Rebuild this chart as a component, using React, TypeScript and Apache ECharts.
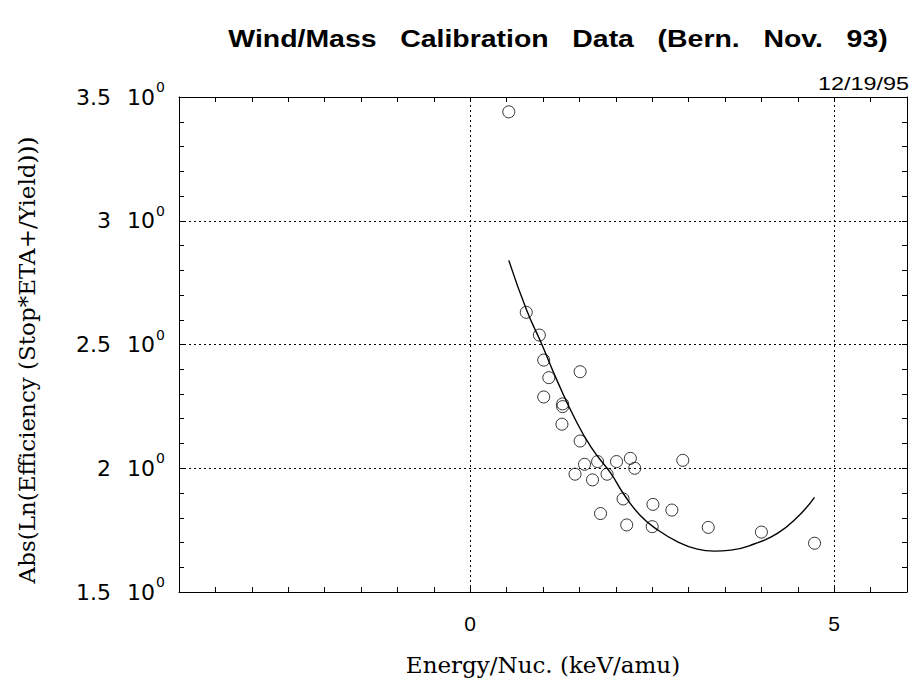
import React, { useEffect, useRef } from "react";
import * as echarts from "echarts";

const titleText = "Wind/Mass   Calibration   Data   (Bern.   Nov.   93)";
const dateText = "12/19/95";
const xAxisTitle = "Energy/Nuc. (keV/amu)";
const yAxisTitle = "Abs(Ln(Efficiency (Stop*ETA+/Yield)))";

const xLabeledTicks = [0, 5];
const yLabeledTicks = [1.5, 2, 2.5, 3, 3.5];
const xGridLines = [0, 5];
const yGridLines = [2, 2.5, 3];

// measured calibration points
const pointEnergy = [
  0.53, 0.77, 0.95, 1.01, 1.08, 1.51, 1.01, 1.27, 1.27, 1.26, 1.51, 1.57, 1.75, 1.44, 1.68,
  1.88, 2.01, 2.2, 2.26, 2.92, 2.1, 2.51, 2.77, 1.79, 2.15, 2.5, 3.27, 4.0, 4.73,
];
const pointEff = [
  3.44, 2.63, 2.538, 2.437, 2.366, 2.39, 2.288, 2.26, 2.249, 2.178, 2.11, 2.016, 2.027, 1.976, 1.953,
  1.976, 2.027, 2.04, 2.0, 2.032, 1.876, 1.854, 1.831, 1.817, 1.771, 1.764, 1.761, 1.742, 1.697,
];

// fitted curve
const fitEnergy = [
  0.53, 0.78, 0.97, 1.2, 1.43, 1.66, 1.93, 2.11, 2.34, 2.57, 2.85, 3.12, 3.35, 3.58, 3.9, 4.22, 4.5, 4.73,
];
const fitEff = [
  2.84, 2.635, 2.51, 2.35, 2.205, 2.085, 1.98, 1.895, 1.808, 1.752, 1.703, 1.673, 1.665, 1.669, 1.694,
  1.737, 1.804, 1.882,
];

const near = (a: number, b: number) => Math.abs(a - b) < 1e-6;

export default function App() {
  const ref = useRef<HTMLDivElement>(null);
  useEffect(() => {
    if (!ref.current) return;
    const chart = echarts.init(ref.current, null, { renderer: "svg" });
    const sans = "'Liberation Sans', Arial, sans-serif";
    const wideSans = "'DejaVu Sans', 'Liberation Sans', sans-serif";
    const serif = "'DejaVu Serif', 'Liberation Serif', serif";
    const dotted = { color: "#000", width: 1, type: [2, 3] as any };
    const baseX = {
      type: "value" as const,
      min: -4,
      max: 6,
      interval: 0.5,
      axisLine: { show: true, onZero: false, lineStyle: { color: "#000", width: 1 } },
      axisTick: { show: true, inside: true, length: 5, lineStyle: { color: "#000" } },
      splitLine: { show: false },
    };
    const baseY = {
      type: "value" as const,
      min: 1.5,
      max: 3.5,
      interval: 0.1,
      axisLine: { show: true, onZero: false, lineStyle: { color: "#000", width: 1 } },
      axisTick: { show: true, inside: true, length: 5, lineStyle: { color: "#000" } },
      splitLine: { show: false },
    };
    chart.setOption({
      animation: false,
      backgroundColor: "#fff",
      grid: { left: 179, right: 7, top: 97, bottom: 91, containLabel: false },
      xAxis: [
        {
          ...baseX,
          position: "bottom",
          axisLabel: {
            show: true,
            margin: 21,
            color: "#000",
            fontFamily: sans,
            fontSize: 21,
            formatter: (v: number) => (xLabeledTicks.some((t) => near(t, v)) ? String(Math.round(v)) : ""),
          },
        },
        { ...baseX, position: "top", axisLabel: { show: false } },
      ],
      yAxis: [
        {
          ...baseY,
          position: "left",
          axisLabel: {
            show: true,
            margin: 14,
            color: "#000",
            formatter: (v: number) => {
              const t = yLabeledTicks.find((t) => near(t, v));
              if (t === undefined) return "";
              return `{n|${t}}{b|10}{s|0}`;
            },
            rich: {
              n: { fontFamily: wideSans, fontSize: 22, lineHeight: 34, color: "#000", padding: [0, 16, 0, 0] },
              b: { fontFamily: wideSans, fontSize: 22, lineHeight: 34, color: "#000" },
              s: {
                fontFamily: wideSans,
                fontSize: 14,
                lineHeight: 16,
                color: "#000",
                verticalAlign: "top",
                padding: [0, 0, 0, 1],
              },
            },
          },
        },
        { ...baseY, position: "right", axisLabel: { show: false } },
      ],
      graphic: [
        {
          type: "text",
          x: 558,
          y: 39,
          scaleX: 1.185,
          style: {
            text: titleText,
            font: `bold 24px ${sans}`,
            fill: "#000",
            align: "center",
            verticalAlign: "middle",
          },
        },
        {
          type: "text",
          x: 909,
          y: 84,
          scaleX: 1.3,
          style: {
            text: dateText,
            font: `18px ${sans}`,
            fill: "#000",
            align: "right",
            verticalAlign: "middle",
          },
        },
        {
          type: "text",
          x: 543,
          y: 665,
          style: {
            text: xAxisTitle,
            font: `23px ${serif}`,
            fill: "#000",
            align: "center",
            verticalAlign: "middle",
          },
        },
        {
          type: "text",
          x: 27,
          y: 360,
          rotation: Math.PI / 2,
          style: {
            text: yAxisTitle,
            font: `23px ${serif}`,
            fill: "#000",
            align: "center",
            verticalAlign: "middle",
          },
        },
      ],
      series: [
        {
          type: "line",
          xAxisIndex: 0,
          yAxisIndex: 0,
          data: fitEnergy.map((x, i) => [x, fitEff[i]]),
          smooth: true,
          showSymbol: false,
          symbol: "none",
          lineStyle: { color: "#000", width: 1.4 },
          silent: true,
          markLine: {
            silent: true,
            symbol: ["none", "none"],
            label: { show: false },
            lineStyle: dotted,
            data: [
              ...xGridLines.map((x) => ({ xAxis: x })),
              ...yGridLines.map((y) => ({ yAxis: y })),
            ],
          },
        },
        {
          type: "scatter",
          xAxisIndex: 0,
          yAxisIndex: 0,
          data: pointEnergy.map((x, i) => [x, pointEff[i]]),
          symbol: "circle",
          symbolSize: 12,
          itemStyle: { color: "transparent", borderColor: "#000", borderWidth: 1 },
        },
      ],
    });
    return () => chart.dispose();
  }, []);
  return (
    <div
      ref={ref}
      style={{ position: "fixed", left: 0, top: 0, width: 914, height: 683, background: "#fff" }}
    />
  );
}
